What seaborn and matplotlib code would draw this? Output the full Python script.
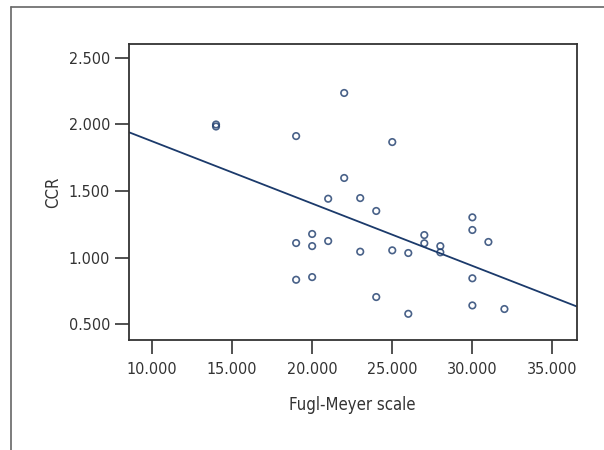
import numpy as np
import pandas as pd
import matplotlib
matplotlib.use("Agg")
import matplotlib.pyplot as plt
from matplotlib import font_manager
from matplotlib.lines import Line2D
import seaborn as sns

# values
fugl_meyer = [14, 14, 22, 19, 25, 22, 21, 23, 24, 30,
              30, 27, 20, 19, 20, 21, 27, 28, 31, 23,
              25, 26, 28, 19, 20, 30, 24, 30, 32, 26]
ccr = [2.000, 1.985, 2.237, 1.913, 1.868, 1.598, 1.442, 1.447, 1.350, 1.302,
       1.207, 1.169, 1.177, 1.109, 1.086, 1.124, 1.107, 1.086, 1.117, 1.044,
       1.054, 1.034, 1.039, 0.833, 0.853, 0.844, 0.703, 0.640, 0.613, 0.577]
x_ticks = [10, 15, 20, 25, 30, 35]
y_ticks = [0.5, 1.0, 1.5, 2.0, 2.5]

df = pd.DataFrame({"Fugl-Meyer scale": fugl_meyer, "CCR": ccr})

sns.set_style("white")

# the original uses a condensed face; take one if there is any
narrow = None
for f in font_manager.fontManager.ttflist:
    st = str(f.stretch).lower()
    if ("condensed" in st or "narrow" in f.name.lower() or "condensed" in f.name.lower()
            or (st.isdigit() and int(st) < 500)) and f.style == "normal":
        narrow = f
        break

if narrow is not None:
    plt.rcParams['font.family'] = [narrow.name, 'DejaVu Sans']
    plt.rcParams['font.stretch'] = narrow.stretch
    fs = 11.5
else:
    plt.rcParams['font.family'] = ['Liberation Sans', 'DejaVu Sans']
    fs = 11

navy = "#1b3a6b"
fig = plt.figure(figsize=(6.04, 4.5), dpi=100)
ax = fig.add_axes([0.2144, 0.2444, 0.7401, 0.6578])
ax.set_xlim(8.6, 36.5)
ax.set_ylim(0.38, 2.605)

sns.regplot(data=df, x="Fugl-Meyer scale", y="CCR", ax=ax, ci=None, truncate=False,
            scatter_kws=dict(marker="o", s=22, facecolors="none", edgecolors=navy, linewidths=1.2),
            line_kws=dict(color=navy, lw=1.3))

ax.set_xlim(8.6, 36.5)
ax.set_ylim(0.38, 2.605)
ax.set_xticks(x_ticks)
ax.set_yticks(y_ticks)
ax.set_xticklabels([f"{v:.3f}" for v in x_ticks])
ax.set_yticklabels([f"{v:.3f}" for v in y_ticks])
ax.tick_params(axis="both", direction="out", length=10, width=1.2, color="#333333",
               labelsize=fs, labelcolor="#333333", left=True, bottom=True)
ax.tick_params(axis="x", pad=6)
ax.tick_params(axis="y", pad=4)
for s in ax.spines.values():
    s.set_color("#333333")
    s.set_linewidth(1.3)
ax.set_xlabel("Fugl-Meyer scale", fontsize=fs + 0.5, color="#333333")
ax.set_ylabel("CCR", fontsize=fs + 0.5, color="#333333")
ax.xaxis.set_label_coords(0.498, -0.19)
ax.yaxis.set_label_coords(-0.15, 0.5)

# outer frame (top and left edges only)
fig.add_artist(Line2D([11 / 604, 1.0], [1 - 7 / 450, 1 - 7 / 450], color="#666666", lw=1.2))
fig.add_artist(Line2D([11 / 604, 11 / 604], [0.0, 1 - 7 / 450], color="#666666", lw=1.2))

fig.savefig("out.png", dpi=100)
